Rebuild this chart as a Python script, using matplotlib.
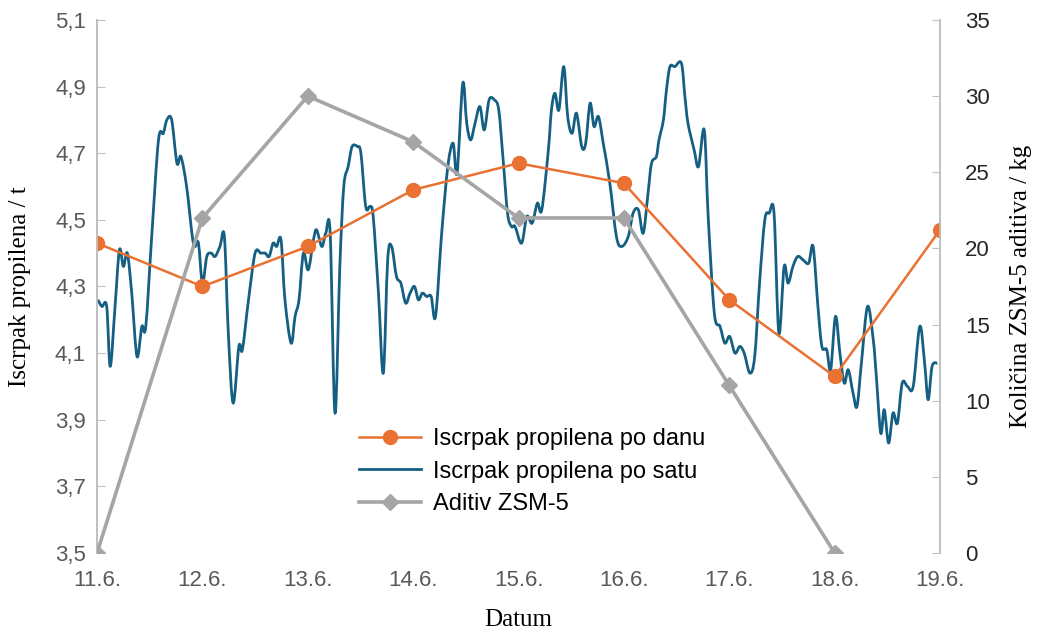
import matplotlib.pyplot as plt
from matplotlib.lines import Line2D
from matplotlib.path import Path
from matplotlib.patches import PathPatch

# ── Podaci ────────────────────────────────────────────────────────────────────
dates = ["11.6.", "12.6.", "13.6.", "14.6.", "15.6.", "16.6.", "17.6.", "18.6.", "19.6."]
daily_yield = [4.43, 4.30, 4.42, 4.59, 4.67, 4.61, 4.26, 4.03, 4.47]
additive_kg = [0, 22, 30, 27, 22, 22, 11, 0]

# sati od 11.6. 00:00
hours = [
    0.2, 1.1, 2.2, 3.0, 4.1, 5.1, 6.0, 6.9, 7.9, 9.1, 10.2, 11.1, 12.5, 14.0, 15.1,
    15.9, 17.0, 18.2, 19.1, 20.4, 21.7, 22.3, 23.1, 24.0, 25.0, 26.0, 26.9, 28.0,
    29.0, 29.9, 31.0, 32.3, 33.1, 34.5, 36.0, 37.3, 38.3, 39.2, 40.1, 40.9, 41.9,
    42.8, 44.2, 45.1, 46.0, 47.0, 48.1, 49.3, 50.0, 51.2, 52.1, 53.1, 54.2, 55.3,
    56.2, 57.2, 58.1, 59.3, 60.1, 61.2, 62.2, 62.9, 64.1, 65.2, 66.2, 67.1, 68.2,
    69.2, 70.3, 71.3, 72.3, 73.2, 74.1, 75.1, 76.1, 77.1, 78.5, 79.9, 81.1, 82.0,
    83.3, 84.2, 85.1, 86.1, 87.2, 88.2, 89.3, 90.5, 91.5, 92.5, 93.5, 94.4, 95.2,
    96.7, 97.9, 99.1, 100.3, 101.3, 102.8, 103.5, 104.3, 105.2, 106.3, 107.2, 108.2,
    109.2, 110.4, 111.3, 112.3, 113.2, 114.2, 115.3, 116.8, 118.3, 119.5, 121.0,
    122.1, 123.3, 124.4, 125.5, 126.3, 127.4, 128.0, 129.0, 129.7, 130.5, 131.6,
    133.1, 133.9, 134.6, 136.0, 137.0, 138.3, 139.2, 140.6, 141.9, 143.0, 144.1,
    145.3, 146.4, 147.4, 148.7, 149.8, 150.9, 152.1, 153.1, 154.2, 155.3, 156.5,
    157.4, 158.5, 159.6, 160.8, 162.1, 163.1, 164.2, 165.1, 166.2, 167.1, 168.2,
    169.2, 170.2, 171.1, 172.2, 173.1, 174.1, 175.5, 176.8, 177.5, 178.5, 179.3,
    180.3, 181.3, 182.3, 183.4, 184.6, 185.9, 187.4, 188.5, 189.3, 190.2, 191.4,
]
hourly_yield = [
    4.26, 4.24, 4.24, 4.06, 4.24, 4.41, 4.36, 4.40, 4.28, 4.09, 4.18, 4.18, 4.46, 4.74, 4.76,
    4.80, 4.80, 4.67, 4.69, 4.60, 4.45, 4.42, 4.43, 4.31, 4.39, 4.40, 4.39, 4.42,
    4.45, 4.16, 3.95, 4.12, 4.11, 4.26, 4.40, 4.40, 4.40, 4.39, 4.43, 4.42, 4.44,
    4.26, 4.13, 4.21, 4.26, 4.40, 4.35, 4.44, 4.47, 4.42, 4.46, 4.46, 3.92, 4.36,
    4.60, 4.66, 4.72, 4.72, 4.70, 4.54, 4.54, 4.51, 4.28, 4.04, 4.38, 4.42, 4.33,
    4.31, 4.25, 4.28, 4.30, 4.26, 4.28, 4.27, 4.27, 4.21, 4.46, 4.66, 4.73, 4.64,
    4.91, 4.79, 4.74, 4.79, 4.84, 4.77, 4.86, 4.86, 4.83, 4.68, 4.52, 4.48, 4.48,
    4.43, 4.51, 4.49, 4.55, 4.53, 4.71, 4.83, 4.88, 4.83, 4.96, 4.81, 4.76,
    4.82, 4.72, 4.73, 4.85, 4.78, 4.81, 4.73, 4.61, 4.45, 4.42, 4.45,
    4.52, 4.53, 4.46, 4.58, 4.67, 4.69, 4.74, 4.80, 4.89, 4.96, 4.96,
    4.97, 4.87, 4.79, 4.71, 4.66, 4.77, 4.51, 4.22, 4.18, 4.13, 4.15,
    4.10, 4.12, 4.10, 4.04, 4.09, 4.31, 4.50, 4.52, 4.52, 4.16, 4.36,
    4.31, 4.36, 4.39, 4.38, 4.37, 4.42, 4.24, 4.12, 4.11, 4.05, 4.21,
    4.10, 4.01, 4.05, 3.98, 3.94, 4.07, 4.24, 4.14, 4.03, 3.86, 3.93,
    3.83, 3.92, 3.89, 4.01, 4.00, 4.00, 4.18, 4.07, 3.96, 4.06, 4.07,
]

# ── Boje ──────────────────────────────────────────────────────────────────────
ORANGE = "#E97132"
BLUE = "#156082"
GRAY = "#A5A5A5"
AXIS = "#BFBFBF"
TICK_TXT = "#595959"

SANS = "Liberation Sans"
SERIF = "Liberation Serif"


def smooth_path(xs, ys, t=1 / 6):
    # zaglađena linija kao u Excelu (Catmull-Rom -> Bezier)
    n = len(xs)
    verts = [(xs[0], ys[0])]
    codes = [Path.MOVETO]
    for i in range(n - 1):
        x0, y0 = (xs[i - 1], ys[i - 1]) if i > 0 else (xs[i], ys[i])
        x1, y1 = xs[i], ys[i]
        x2, y2 = xs[i + 1], ys[i + 1]
        x3, y3 = (xs[i + 2], ys[i + 2]) if i + 2 < n else (x2, y2)
        verts += [(x1 + (x2 - x0) * t, y1 + (y2 - y0) * t),
                  (x2 - (x3 - x1) * t, y2 - (y3 - y1) * t),
                  (x2, y2)]
        codes += [Path.CURVE4] * 3
    return Path(verts, codes)


fig = plt.figure(figsize=(10.39, 6.34), dpi=100)
ax = fig.add_axes([0.0934, 0.1278, 0.8113, 0.8407])
ax2 = ax.twinx()

day_x = list(range(len(dates)))
hour_x = [h / 24 for h in hours]

ax.add_patch(PathPatch(smooth_path(hour_x, hourly_yield), facecolor="none",
                       edgecolor=BLUE, linewidth=2.0, joinstyle="round", zorder=2))
ax.plot(day_x, daily_yield, color=ORANGE, linewidth=1.8, marker="o", markersize=10, zorder=3)
ax2.plot(day_x[:len(additive_kg)], additive_kg, color=GRAY, linewidth=2.6,
         marker="D", markersize=8, zorder=3)

ax.set_xlim(0, 8)
ax.set_ylim(3.5, 5.1)
ax2.set_ylim(0, 35)
ax.set_xticks(day_x)
ax.set_xticklabels(dates)
ax.set_yticks([3.5 + 0.2 * i for i in range(9)])
ax.set_yticklabels([f"{3.5 + 0.2 * i:.1f}".replace(".", ",") for i in range(9)])
ax2.set_yticks(range(0, 36, 5))

for a in (ax, ax2):
    for s in ("top", "bottom"):
        a.spines[s].set_visible(False)
    a.spines["left"].set_color(AXIS)
    a.spines["right"].set_color(AXIS)
    a.spines["left"].set_linewidth(1.2)
    a.spines["right"].set_linewidth(1.2)

ax.tick_params(axis="y", direction="in", length=6, color=AXIS, labelcolor=TICK_TXT,
               labelsize=16, pad=8)
ax.tick_params(axis="x", length=0, labelcolor=TICK_TXT, labelsize=16, pad=12)
ax2.tick_params(axis="y", direction="in", length=6, color=AXIS, labelcolor="#262626",
                labelsize=16, pad=18)
for lbl in ax.get_xticklabels() + ax.get_yticklabels() + ax2.get_yticklabels():
    lbl.set_fontfamily(SANS)

ax.set_xlabel("Datum", fontfamily=SERIF, fontsize=18)
ax.set_ylabel("Iscrpak propilena / t", fontfamily=SERIF, fontsize=18)
ax2.set_ylabel("Količina ZSM-5 aditiva / kg", fontfamily=SERIF, fontsize=18)
ax.xaxis.set_label_coords(0.5, -0.105)
ax.yaxis.set_label_coords(-0.078, 0.5)
ax2.yaxis.set_label_coords(1.083, 0.5)

handles = [
    Line2D([], [], color=ORANGE, linewidth=1.8, marker="o", markersize=10),
    Line2D([], [], color=BLUE, linewidth=2.0),
    Line2D([], [], color=GRAY, linewidth=2.6, marker="D", markersize=8),
]
labels = ["Iscrpak propilena po danu", "Iscrpak propilena po satu", "Aditiv ZSM-5"]
ax2.legend(handles, labels, loc="upper left", bbox_to_anchor=(0.30, 0.252), frameon=False,
           prop={"family": SANS, "size": 17}, handlelength=2.6, handletextpad=0.5,
           labelspacing=0.45, borderaxespad=0)

fig.savefig("out.png", dpi=100)
